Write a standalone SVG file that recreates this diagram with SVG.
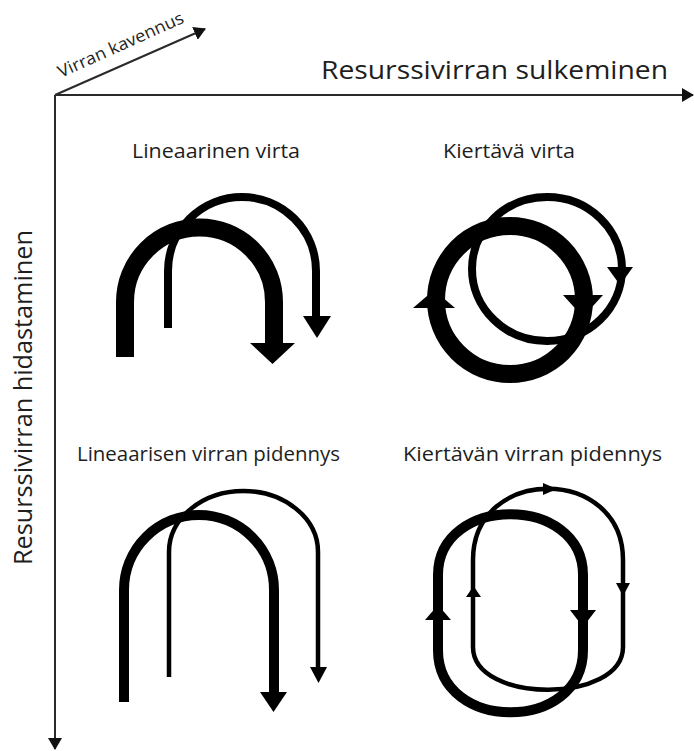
<svg xmlns="http://www.w3.org/2000/svg" width="694" height="751" viewBox="0 0 694 751">
<style>
.lbl{font-family:"Open Sans","Noto Sans","Liberation Sans",sans-serif;fill:#1e1e1e}
.ax{stroke:#2a2a2a;stroke-width:2;fill:none}
.thick{fill:none;stroke:#000;stroke-linecap:butt}
.head{fill:#000;stroke:none}
</style>
<defs>
<marker id="axhead" markerUnits="userSpaceOnUse" markerWidth="14" markerHeight="14" refX="11" refY="7" orient="auto" viewBox="0 0 14 14">
<path d="M0,0 L12,7 L0,14 Z" fill="#111"/>
</marker>
</defs>
<rect width="694" height="751" fill="#fff"/>
<g id="axes">
<line class="ax" x1="55" y1="95" x2="693" y2="95" marker-end="url(#axhead)"/>
<line class="ax" x1="55" y1="95" x2="55" y2="749" marker-end="url(#axhead)"/>
<line class="ax" x1="55" y1="95" x2="205" y2="29" marker-end="url(#axhead)"/>
<text class="lbl" x="321" y="79" font-size="25" textLength="347" lengthAdjust="spacingAndGlyphs">Resurssivirran sulkeminen</text>
<text class="lbl" transform="translate(32,565) rotate(-90)" font-size="25" textLength="335" lengthAdjust="spacingAndGlyphs">Resurssivirran hidastaminen</text>
<text class="lbl" transform="translate(61,78) rotate(-24.2)" font-size="17" textLength="136" lengthAdjust="spacingAndGlyphs">Virran kavennus</text>
</g>
<g id="linear-flow">
<text class="lbl" x="132" y="158" font-size="19.5" textLength="168" lengthAdjust="spacingAndGlyphs">Lineaarinen virta</text>
<path class="thick" stroke-width="18" d="M125,357 V302 A74.5,74.5 0 0 1 274,302 V345"/>
<polygon class="head" points="250,343 295,343 272.5,364"/>
<path class="thick" stroke-width="8" d="M168,328 V271 A74,74 0 0 1 316,271 V318"/>
<polygon class="head" points="303,316 331,316 317,338"/>
</g>
<g id="circular-flow">
<text class="lbl" x="443" y="158" font-size="19.5" textLength="132" lengthAdjust="spacingAndGlyphs">Kiertävä virta</text>
<circle class="thick" stroke-width="18" cx="510" cy="300" r="74"/>
<polygon class="head" points="413,308 455,308 434,290"/>
<polygon class="head" points="563,295 603,295 583,317"/>
<ellipse class="thick" stroke-width="8" cx="547" cy="269" rx="75" ry="72"/>
<polygon class="head" points="607,267 633,267 620,285"/>
</g>
<g id="linear-flow-extension">
<text class="lbl" x="77" y="461" font-size="19.5" textLength="263" lengthAdjust="spacingAndGlyphs">Lineaarisen virran pidennys</text>
<path class="thick" stroke-width="10" d="M124,702 V590 A75,75 0 0 1 274,590 V693"/>
<polygon class="head" points="260,692 287,692 273.5,712"/>
<path class="thick" stroke-width="4.5" d="M169,677 V552 A74.5,61 0 0 1 318,552 V668"/>
<polygon class="head" points="310,667 327,667 318.5,683"/>
</g>
<g id="circular-flow-extension">
<text class="lbl" x="403" y="461" font-size="19.5" textLength="259" lengthAdjust="spacingAndGlyphs">Kiertävän virran pidennys</text>
<path class="thick" stroke-width="10" d="M438,650 V575 C438,494 583,494 583,575 V650 C583,733 438,733 438,650 Z"/>
<polygon class="head" points="425,620 451,620 438,605"/>
<polygon class="head" points="570,610 596,610 583,627"/>
<path class="thick" stroke-width="4.5" d="M473,647 V560 C473,465 623,465 623,560 V647 C623,704 473,704 473,647 Z"/>
<polygon class="head" points="543,483 557,489 543,495"/>
<polygon class="head" points="616,583 630,583 623,596"/>
<polygon class="head" points="466,597 481,597 473.5,586"/>
</g>
</svg>
